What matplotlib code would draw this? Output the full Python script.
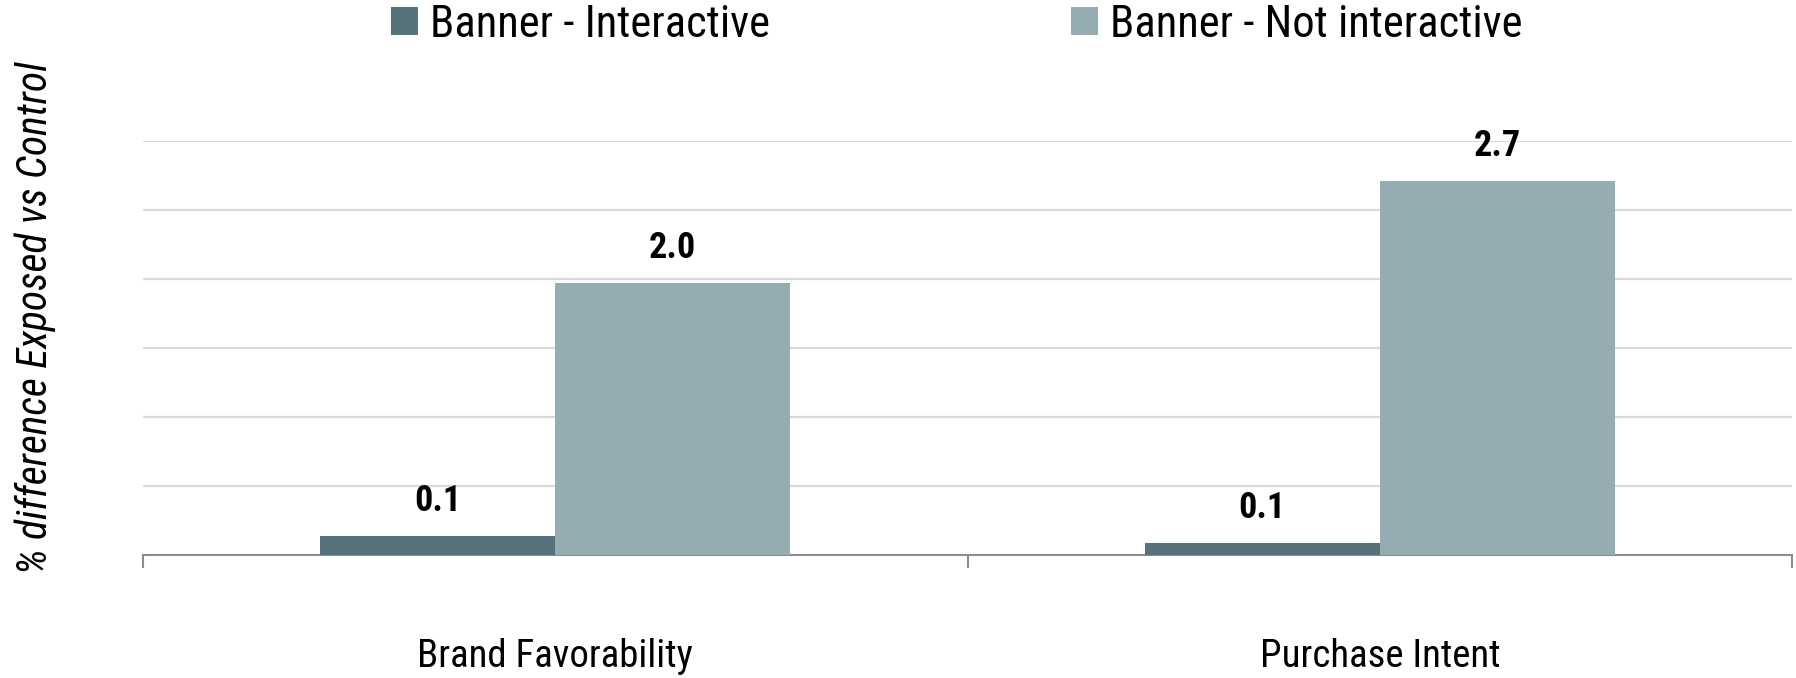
import numpy as np
import matplotlib
matplotlib.use("Agg")
import matplotlib.pyplot as plt
from matplotlib.patches import Patch

plt.rcParams["font.family"] = ["Roboto Condensed", "DejaVu Sans"]

categories = ["Brand Favorability", "Purchase Intent"]
series_names = ["Banner - Interactive", "Banner - Not interactive"]
interactive = [0.14, 0.09]
not_interactive = [1.97, 2.71]
colors = ["#56727a", "#95adb2"]

fig = plt.figure(figsize=(17.96, 6.78), dpi=100)
ax = fig.add_axes([143 / 1796, 1 - 555 / 678, (1792 - 143) / 1796, (555 - 141) / 678])

x = np.arange(len(categories))
w = 0.285
bars = [
    ax.bar(x - w / 2, interactive, w, color=colors[0], zorder=3),
    ax.bar(x + w / 2, not_interactive, w, color=colors[1], zorder=3),
]

# value labels above each bar
for group in bars:
    for rect in group:
        h = rect.get_height()
        ax.annotate(f"{h:.1f}", (rect.get_x() + rect.get_width() / 2, h),
                    xytext=(0, 12), textcoords="offset points",
                    ha="center", va="bottom", fontsize=26, fontweight="bold")

ax.set_xlim(-0.5, 1.5)
ax.set_ylim(0, 3.0)
ax.set_yticks(np.arange(0.5, 3.01, 0.5))
ax.yaxis.grid(True, color="#d9d9d9", linewidth=1.6, zorder=0)
ax.tick_params(axis="y", length=0, labelleft=False)

# boundary ticks on the category axis, labels at the centres
ax.set_xticks([-0.5, 0.5, 1.5])
ax.set_xticklabels([])
ax.set_xticks(x, minor=True)
ax.set_xticklabels(categories, minor=True, fontsize=28)
ax.tick_params(axis="x", which="major", length=9.5, width=1.5, color="#8c8c8c", direction="out")
ax.tick_params(axis="x", which="minor", length=0, pad=60)

for side in ["left", "right", "top"]:
    ax.spines[side].set_visible(False)
ax.spines["bottom"].set_color("#8c8c8c")
ax.spines["bottom"].set_linewidth(1.5)

ax.set_ylabel("% difference Exposed vs Control", fontsize=30, style="italic")
ax.yaxis.set_label_coords(-0.053, 0.572)

# one legend entry per series, placed side by side at the top
for name, c, xpos in zip(series_names, colors, [391, 1071]):
    fig.legend([Patch(facecolor=c)], [name], loc="center left",
               bbox_to_anchor=(xpos / 1796, 1 - 25 / 678),
               frameon=False, fontsize=32, borderpad=0, borderaxespad=0,
               handlelength=0.6, handleheight=0.6, handletextpad=0.27)

fig.savefig("out.png", dpi=100, facecolor="white")
